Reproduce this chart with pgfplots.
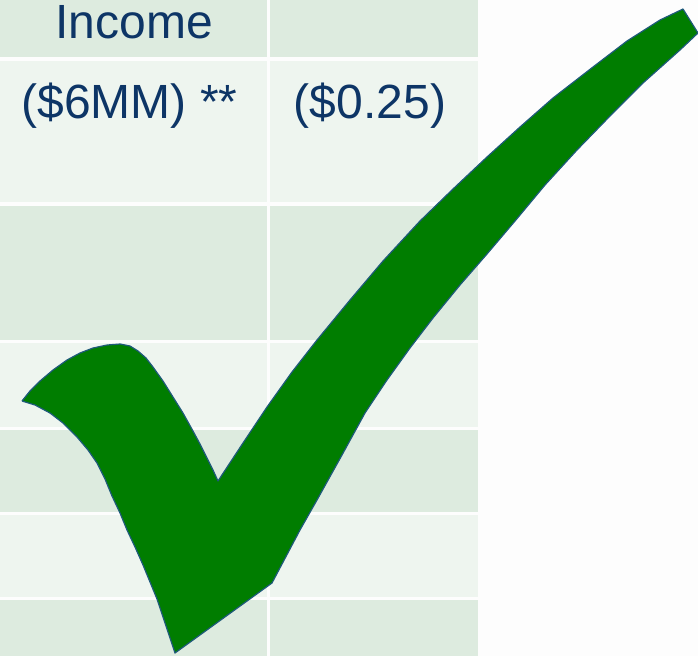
\documentclass[border=0pt]{standalone}
\usepackage{pgfplots}
\pgfplotsset{compat=1.18}
\usepackage{fontspec}
\setmainfont{Liberation Sans}
\definecolor{celldark}{HTML}{DDEBDF}
\definecolor{celllight}{HTML}{EEF5EF}
\definecolor{bgwhite}{HTML}{FDFDFD}
\definecolor{checkgreen}{HTML}{007D00}
\definecolor{checkedge}{HTML}{1E5A7A}
\definecolor{navy}{HTML}{0D3566}
\begin{document}
\begin{tikzpicture}
\begin{axis}[
  width=698pt, height=656pt, scale only axis,
  xmin=0, xmax=698, ymin=0, ymax=656, y dir=reverse,
  hide axis, clip=true,
  every axis plot/.append style={mark=none},
]
% background
\addplot[fill=bgwhite, draw=none] coordinates {(0,0)(698,0)(698,656)(0,656)};
% column 1 cells
\addplot[fill=celldark, draw=none] coordinates {(0,0)(267,0)(267,57)(0,57)};
\addplot[fill=celllight, draw=none] coordinates {(0,61)(267,61)(267,202)(0,202)};
\addplot[fill=celldark, draw=none] coordinates {(0,206)(267,206)(267,340)(0,340)};
\addplot[fill=celllight, draw=none] coordinates {(0,343)(267,343)(267,427)(0,427)};
\addplot[fill=celldark, draw=none] coordinates {(0,430)(267,430)(267,512)(0,512)};
\addplot[fill=celllight, draw=none] coordinates {(0,515)(267,515)(267,597)(0,597)};
\addplot[fill=celldark, draw=none] coordinates {(0,600)(267,600)(267,656)(0,656)};
% column 2 cells
\addplot[fill=celldark, draw=none] coordinates {(270,0)(478,0)(478,57)(270,57)};
\addplot[fill=celllight, draw=none] coordinates {(270,61)(478,61)(478,202)(270,202)};
\addplot[fill=celldark, draw=none] coordinates {(270,206)(478,206)(478,340)(270,340)};
\addplot[fill=celllight, draw=none] coordinates {(270,343)(478,343)(478,427)(270,427)};
\addplot[fill=celldark, draw=none] coordinates {(270,430)(478,430)(478,512)(270,512)};
\addplot[fill=celllight, draw=none] coordinates {(270,515)(478,515)(478,597)(270,597)};
\addplot[fill=celldark, draw=none] coordinates {(270,600)(478,600)(478,656)(270,656)};
% texts
\node[anchor=base, text=navy, font=\fontsize{48}{50}\selectfont] at (axis cs:134,38) {Income};
\node[anchor=base, text=navy, font=\fontsize{48}{50}\selectfont] at (axis cs:129.5,118) {(\$6MM) **};
\node[anchor=base, text=navy, font=\fontsize{48}{50}\selectfont] at (axis cs:370,118) {(\$0.25)};
% checkmark
\addplot[fill=checkgreen, draw=checkedge, line width=1.2pt, line join=round] coordinates {
(22,401)(30,391)(40,381)(53,370)(67,360)(80,353)(93,348)(107,345)(120,344)(130,346)(138,351)(146,358)(153,367)(163,381)(173,397)(183,413)(193,431)(200,444)(207,458)(213,470)(218,481)
(243,443)(267,407)(292,372)(317,340)(350,300)(383,261)(420,221)(453,189)(487,157)(520,127)(553,98)(593,67)(627,41)(660,20)(683,9)
(698,33)
(680,50)(643,83)(610,116)(577,150)(545,185)(515,221)(487,254)(460,285)(433,318)(410,348)(387,380)(365,413)(342,455)(317,500)(300,530)(272,583)
(175,653)(169,635)(163,617)(157,599)(150,582)(143,565)(135,547)(127,530)(120,513)(112,496)(105,479)(97,463)(88,450)(77,437)(63,423)(50,413)(35,405)(22,401)
};
\end{axis}
\end{tikzpicture}
\end{document}
